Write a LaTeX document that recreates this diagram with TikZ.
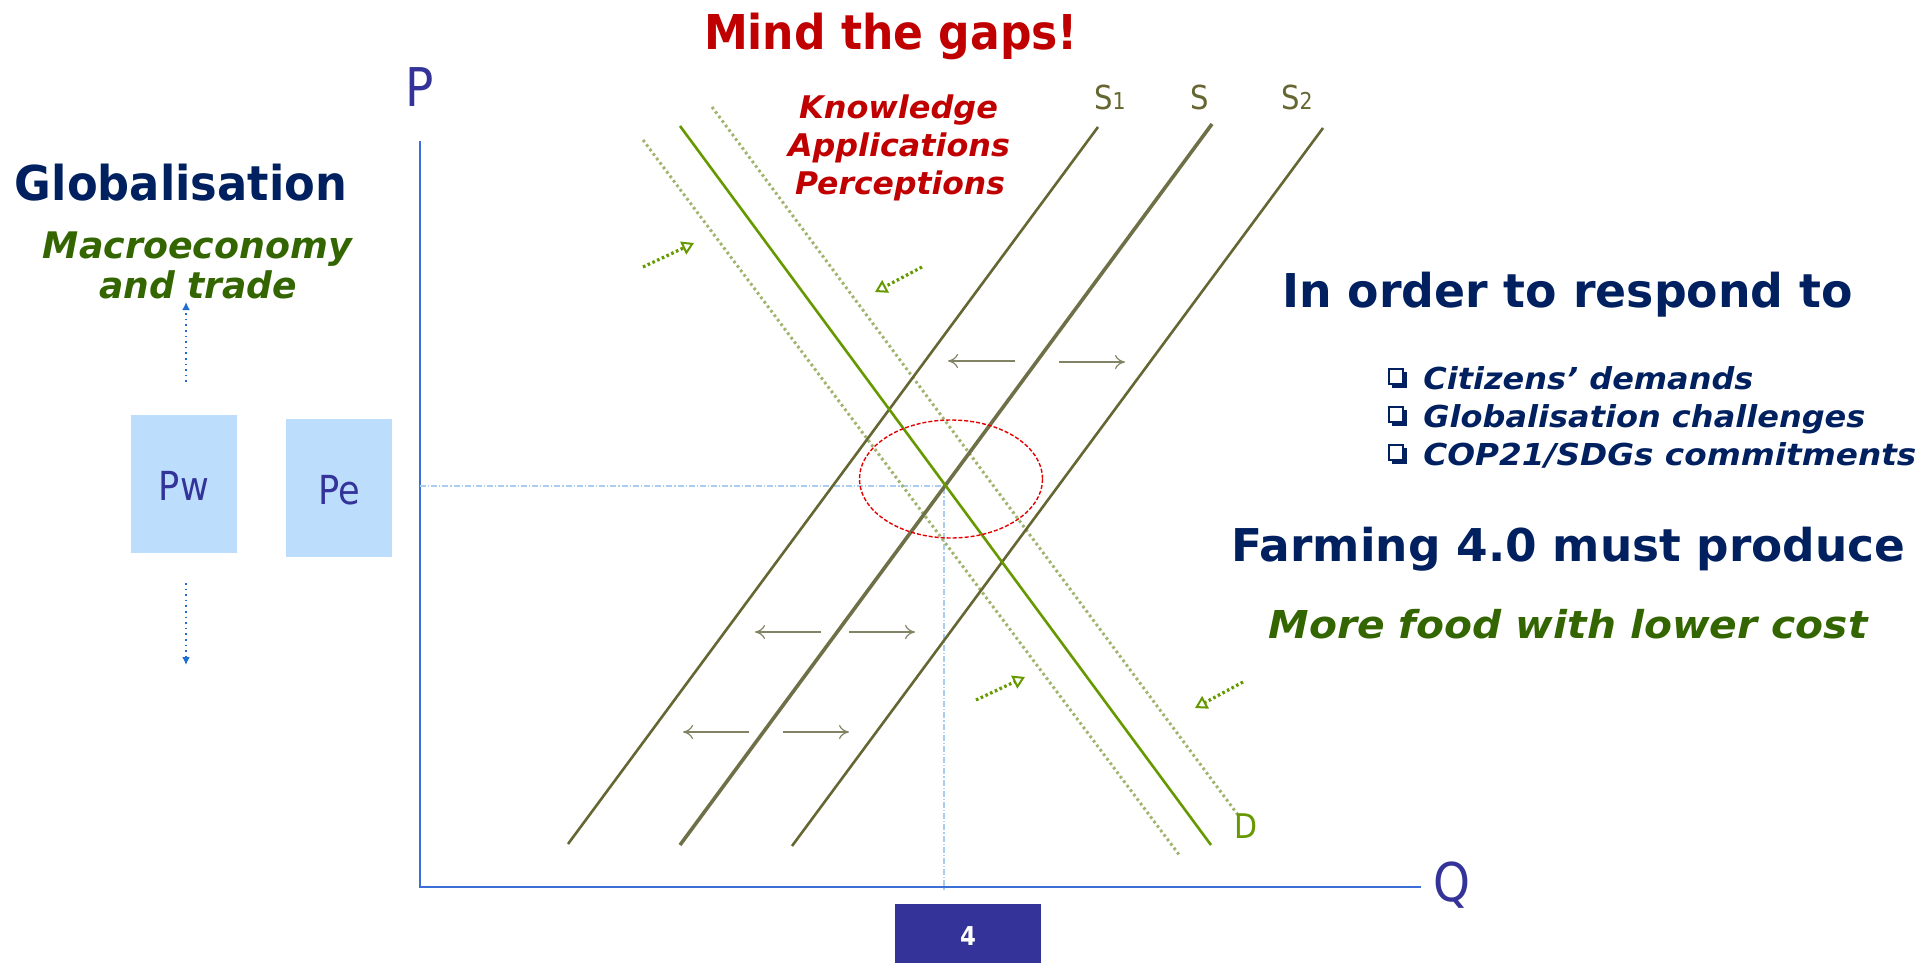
\documentclass[tikz,border=0pt]{standalone}
\usepackage{graphicx}
\usepackage{fontspec}
\setmainfont{DejaVu Sans}
\newfontfamily\tah{DejaVu Sans}
\newfontfamily\tahn[FakeStretch=0.88]{DejaVu Sans}
\usetikzlibrary{arrows.meta,calc}
\definecolor{navy}{RGB}{0,32,96}
\definecolor{dgreen}{RGB}{51,102,0}
\definecolor{dred}{RGB}{192,0,0}
\definecolor{indigo}{RGB}{51,51,153}
\definecolor{axisblue}{RGB}{60,110,215}
\definecolor{boxblue}{RGB}{189,221,253}
\definecolor{olive}{RGB}{102,102,51}
\definecolor{oliveS}{RGB}{112,112,72}
\definecolor{dgr}{RGB}{102,153,0}
\definecolor{dotgr}{RGB}{160,180,110}
\definecolor{smallarr}{RGB}{130,130,100}
\definecolor{lblue}{RGB}{170,205,240}
\definecolor{dblue}{RGB}{30,110,210}
\newcommand{\fitw}[2]{\resizebox{#1pt}{\height}{#2}}
\tikzset{
  txt/.style={inner sep=0pt, anchor=base},
  lab/.style={inner sep=0pt, anchor=base, font=\tahn},
  supply/.style={draw=olive, line width=1.3pt},
  demand/.style={draw=dgr, line width=1.3pt},
  dotd/.style={draw=dotgr, line width=1.5pt, dash pattern=on 1.3pt off 1.5pt},
  shift arrow/.style={draw=smallarr, line width=0.6pt, -{To[length=5pt,width=7pt]}},
  push arrow/.style={draw=dgr, line width=1.6pt, dash pattern=on 1.3pt off 1.3pt, -{Triangle[open,length=6pt,width=7pt,line width=1pt]}},
  pbox/.style={fill=boxblue, minimum width=53pt, minimum height=69pt, inner sep=0pt},
  bulletbox/.style={fill=white, draw=navy, line width=0.9pt},
}
\begin{document}
\begin{tikzpicture}[x=0.5pt,y=-0.5pt]
\useasboundingbox (0,0) rectangle (1927,963);
% title
\node[txt, text=dred, font=\tah\bfseries\fontsize{24}{28}\selectfont] (title) at (891,50) {\fitw{187}{Mind the gaps!}};
\node[txt, text=dred, font=\tah\bfseries\itshape\fontsize{15.6}{18}\selectfont] (k1) at (898.5,119) {\fitw{99.5}{Knowledge}};
\node[txt, text=dred, font=\tah\bfseries\itshape\fontsize{15.6}{18}\selectfont] (k2) at (899,157) {\fitw{111}{Applications}};
\node[txt, text=dred, font=\tah\bfseries\itshape\fontsize{15.6}{18}\selectfont] (k3) at (900,195) {\fitw{105}{Perceptions}};
% left texts
\node[txt, text=navy, font=\tah\bfseries\fontsize{24}{28}\selectfont] (glob) at (181,200) {\fitw{166}{Globalisation}};
\node[txt, text=dgreen, font=\tah\bfseries\itshape\fontsize{18.3}{22}\selectfont] (macro) at (197.5,258) {\fitw{154.5}{Macroeconomy}};
\node[txt, text=dgreen, font=\tah\bfseries\itshape\fontsize{18.3}{22}\selectfont] (trade) at (198,298) {\fitw{99}{and trade}};
% boxes
\node[pbox] (pw) at (184,484) {};
\node[lab, text=indigo, font=\tahn\fontsize{20}{24}\selectfont] (pwl) at (184,500) {Pw};
\node[pbox] (pe) at (339,488) {};
\node[lab, text=indigo, font=\tahn\fontsize{20}{24}\selectfont] (pel) at (339,504) {Pe};
% blue dotted arrows
\coordinate (up1) at (186,382); \coordinate (up2) at (186,302);
\coordinate (dn1) at (186,583); \coordinate (dn2) at (186,665);
\draw[dblue, line width=0.8pt, dotted, -{Latex[length=4pt,width=4pt]}] (up1) -- (up2);
\draw[dblue, line width=0.8pt, dotted, -{Latex[length=4pt,width=4pt]}] (dn1) -- (dn2);
% axes
\coordinate (ytop) at (420,141); \coordinate (orig) at (420,887); \coordinate (xend) at (1421,887);
\draw[axisblue, line width=1.2pt] (ytop) -- (orig) -- (xend);
\node[lab, text=indigo, font=\tahn\fontsize{26.7}{30}\selectfont] (P) at (420,107) {P};
\node[lab, text=indigo, font=\tahn\fontsize{26.7}{30}\selectfont] (Q) at (1452,901) {Q};
% equilibrium guides
\coordinate (eq) at (944,486); \coordinate (eqy) at (420,486); \coordinate (eqx) at (944,890);
\draw[lblue, line width=0.6pt, dash pattern=on 3pt off 1pt on 0.6pt off 1pt] (eqy) -- (eq) -- (eqx);
% dotted demand shifts
\coordinate (dl1) at (643,140); \coordinate (dl2) at (1180,856);
\coordinate (dr1) at (712,107); \coordinate (dr2) at (1238,815);
\draw[dotd] (dl1) -- (dl2);
\draw[dotd] (dr1) -- (dr2);
% supply lines
\coordinate (s1a) at (568,844); \coordinate (s1b) at (1098,127);
\coordinate (sa) at (680,845); \coordinate (sb) at (1212,124);
\coordinate (s2a) at (792,846); \coordinate (s2b) at (1323,128);
\draw[supply] (s1a) -- (s1b);
\draw[draw=oliveS, line width=1.8pt] (sa) -- (sb);
\draw[supply] (s2a) -- (s2b);
% demand
\coordinate (da) at (680,126); \coordinate (db) at (1211,845);
\draw[demand] (da) -- (db);
% labels
\node[lab, text=olive, font=\tahn\fontsize{16.5}{20}\selectfont] (S1) at (1110,110) {S{\fontsize{11.6}{14}\selectfont 1}};
\node[lab, text=olive, font=\tahn\fontsize{16.5}{20}\selectfont] (S) at (1200,110) {S};
\node[lab, text=olive, font=\tahn\fontsize{16.5}{20}\selectfont] (S2) at (1297,110) {S{\fontsize{11.6}{14}\selectfont 2}};
\node[lab, text=dgr, font=\tahn\fontsize{17}{20}\selectfont] (D) at (1246,838) {D};
% gap ellipse
\draw[red!90!black, line width=0.7pt, dash pattern=on 2pt off 1pt] (951,479) ellipse [x radius=91.5, y radius=59];
% small shift arrows
\coordinate (t1a) at (1015,361); \coordinate (t1b) at (948,361);
\coordinate (t2a) at (1059,362); \coordinate (t2b) at (1125,362);
\coordinate (m1a) at (821,632); \coordinate (m1b) at (755,632);
\coordinate (m2a) at (849,632); \coordinate (m2b) at (915,632);
\coordinate (b1a) at (749,732); \coordinate (b1b) at (683,732);
\coordinate (b2a) at (783,732); \coordinate (b2b) at (849,732);
\draw[shift arrow] (t1a) -- (t1b);
\draw[shift arrow] (t2a) -- (t2b);
\draw[shift arrow] (m1a) -- (m1b);
\draw[shift arrow] (m2a) -- (m2b);
\draw[shift arrow] (b1a) -- (b1b);
\draw[shift arrow] (b2a) -- (b2b);
% green push arrows
\coordinate (g1a) at (643,267); \coordinate (g1b) at (694,243);
\coordinate (g2a) at (922,267); \coordinate (g2b) at (875,292);
\coordinate (g3a) at (976,700); \coordinate (g3b) at (1025,677);
\coordinate (g4a) at (1243,682); \coordinate (g4b) at (1195,708);
\draw[push arrow] (g1a) -- (g1b);
\draw[push arrow] (g2a) -- (g2b);
\draw[push arrow] (g3a) -- (g3b);
\draw[push arrow] (g4a) -- (g4b);
% right texts
\node[txt, text=navy, font=\tah\bfseries\fontsize{23.3}{27}\selectfont] (resp) at (1567.5,307) {\fitw{285.5}{In order to respond to}};
\foreach \yy in {389,427,465}{
  \fill[navy] (1392,\yy-17) rectangle (1407,\yy-1);
  \draw[bulletbox] (1389,\yy-20) rectangle (1403,\yy-5);
}
\node[txt, anchor=base west, text=navy, font=\tah\bfseries\itshape\fontsize{15.1}{18}\selectfont] (b1) at (1423,389) {\fitw{165}{Citizens’ demands}};
\node[txt, anchor=base west, text=navy, font=\tah\bfseries\itshape\fontsize{15.1}{18}\selectfont] (b2) at (1423,427) {\fitw{221}{Globalisation challenges}};
\node[txt, anchor=base west, text=navy, font=\tah\bfseries\itshape\fontsize{15.1}{18}\selectfont] (b3) at (1423,465) {\fitw{246.5}{COP21/SDGs commitments}};
\node[txt, text=navy, font=\tah\bfseries\fontsize{22.6}{26}\selectfont] (farm) at (1568.5,561) {\fitw{337}{Farming 4.0 must produce}};
\node[txt, text=dgreen, font=\tah\bfseries\itshape\fontsize{19.2}{22}\selectfont] (more) at (1568,638) {\fitw{299.5}{More food with lower cost}};
% page number
\node[fill=indigo, minimum width=73pt, minimum height=29.5pt, inner sep=0pt] (pg) at (968,933.5) {};
\node[lab, text=white, font=\tahn\bfseries\fontsize{13}{15}\selectfont] (pgn) at (968,945) {4};
\end{tikzpicture}
\end{document}
